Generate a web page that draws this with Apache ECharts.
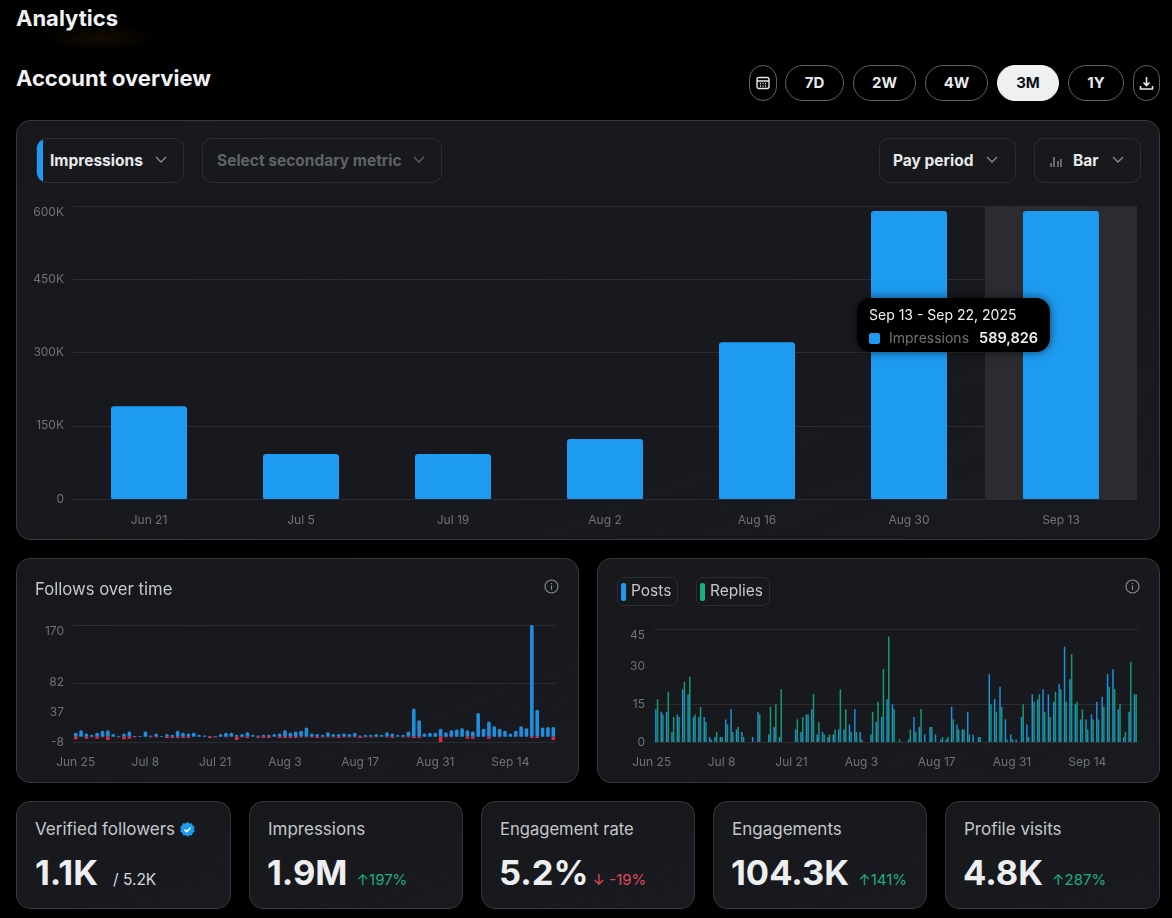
<!DOCTYPE html>
<html>
<head>
<meta charset="utf-8">
<script src="https://cdn.jsdelivr.net/npm/echarts@6/dist/echarts.min.js"></script>
<style>
html,body{margin:0;padding:0;background:#000;width:1172px;height:918px;overflow:hidden;font-family:Inter,"Noto Sans",sans-serif;color:#e7e9ea}
.abs{position:absolute;box-sizing:border-box}
.glow{position:absolute;left:40px;top:25px;width:120px;height:26px;background:radial-gradient(ellipse at center,rgba(70,42,8,.28),rgba(0,0,0,0) 70%)}
.card{position:absolute;box-sizing:border-box;background:linear-gradient(160deg,#17181b,#191a20);border:1px solid #36383b;border-radius:14px}
.title{position:absolute;left:16px;font-size:22px;font-weight:700;color:#f1f2f3;line-height:28px}
.pill{position:absolute;box-sizing:border-box;top:65px;height:36px;border:1px solid #5f6367;border-radius:18px;text-align:center;font-size:15px;font-weight:700;line-height:34px;color:#e7e9ea}
.pill.on{background:#eff1f1;color:#0f1419;border-color:#eff1f1}
.drop{position:absolute;box-sizing:border-box;top:138px;height:45px;border:1px solid #2c2e31;border-radius:10px;font-size:15.5px;font-weight:700;line-height:43px;background:#18191c;color:#e7e9ea}
.drop span{position:absolute;white-space:nowrap}
.drop svg,.pill svg{position:absolute}
.head{position:absolute;left:35px;top:579px;font-size:16.7px;color:#c4c7cb;line-height:20px}
.chip{position:absolute;box-sizing:border-box;top:577px;height:29px;border:1px solid #2c2e31;border-radius:7px;font-size:15.5px;line-height:25px;color:#c4c7cb;padding-left:13px;overflow:hidden}
.chip i{position:absolute;left:3px;top:5px;width:5px;height:18px;border-radius:2px}
.stat-l{position:absolute;top:17px;left:18px;font-size:17px;line-height:20px;color:#c4c7cb;white-space:nowrap}
.stat-v{position:absolute;top:50px;left:17px;font-size:34.5px;font-weight:700;line-height:42px;color:#eceef0;white-space:nowrap}
.stat-d{font-size:15px;font-weight:400;margin-left:9px}
.up{color:#1fae7a}.down{color:#e0485c}
.chart{position:absolute}
</style>
</head>
<body>
<div class="glow"></div>
<div class="title" style="top:4px">Analytics</div>
<div class="title" style="top:64px">Account overview</div>

<div class="pill" style="left:749px;width:28px"><svg style="left:6px;top:10px" width="14" height="14" viewBox="0 0 14 14" fill="none" stroke="#e7e9ea" stroke-width="1.4"><rect x="1" y="1.5" width="12" height="11" rx="2"/><path d="M1 5h12M4 7.5h1M6.5 7.5h1M9 7.5h1M4 10h1M6.5 10h1M9 10h1"/></svg></div>
<div class="pill" style="left:785px;width:59px">7D</div>
<div class="pill" style="left:853px;width:63px">2W</div>
<div class="pill" style="left:925px;width:63px">4W</div>
<div class="pill on" style="left:997px;width:62px">3M</div>
<div class="pill" style="left:1068px;width:56px">1Y</div>
<div class="pill" style="left:1133px;width:27px"><svg style="left:5px;top:10px" width="15" height="15" viewBox="0 0 15 15" fill="none" stroke="#e7e9ea" stroke-width="1.6"><path d="M7.5 1v8M4.5 6.5l3 3 3-3M1.5 10v3h12v-3"/></svg></div>

<div class="card" style="left:16px;top:120px;width:1144px;height:420px"></div>
<div class="card" style="left:16px;top:558px;width:563px;height:225px"></div>
<div class="card" style="left:597px;top:558px;width:563px;height:225px"></div>

<div class="chart" id="mainChart" style="left:16px;top:190px;width:1144px;height:350px"></div>
<div class="chart" id="followsChart" style="left:16px;top:558px;width:563px;height:225px"></div>
<div class="chart" id="postsChart" style="left:597px;top:558px;width:563px;height:225px"></div>

<div class="drop" style="left:36px;width:148px;overflow:hidden"><i class="abs" style="left:-1px;top:-1px;width:7px;height:45px;background:#1d9bf0"></i><span style="left:13px">Impressions</span><svg style="left:118px;top:17px" width="12" height="8" viewBox="0 0 12 8" fill="none" stroke="#8b8f94" stroke-width="1.3"><path d="M1 1l5 5 5-5"/></svg></div>
<div class="drop" style="left:202px;width:240px;color:#5f6368"><span style="left:14px">Select secondary metric</span><svg style="left:210px;top:17px" width="12" height="8" viewBox="0 0 12 8" fill="none" stroke="#5f6368" stroke-width="1.3"><path d="M1 1l5 5 5-5"/></svg></div>
<div class="drop" style="left:879px;width:137px"><span style="left:13px">Pay period</span><svg style="left:106px;top:17px" width="12" height="8" viewBox="0 0 12 8" fill="none" stroke="#8b8f94" stroke-width="1.3"><path d="M1 1l5 5 5-5"/></svg></div>
<div class="drop" style="left:1034px;width:107px"><svg style="left:15px;top:16px" width="12" height="12" viewBox="0 0 12 12" fill="none" stroke="#b4b7ba" stroke-width="1"><path d="M1 12V8M4 12V2M8 12V6M11 12V4"/></svg><span style="left:38px">Bar</span><svg style="left:77px;top:17px" width="12" height="8" viewBox="0 0 12 8" fill="none" stroke="#8b8f94" stroke-width="1.3"><path d="M1 1l5 5 5-5"/></svg></div>

<div class="head">Follows over time</div>
<svg class="abs" style="left:544px;top:579px" width="15" height="15" viewBox="0 0 15 15" fill="none" stroke="#8b8f94" stroke-width="1.1"><circle cx="7.5" cy="7.5" r="6.5"/><path d="M7.5 6.6v4.2M7.5 4v1.2"/></svg>
<svg class="abs" style="left:1125px;top:579px" width="15" height="15" viewBox="0 0 15 15" fill="none" stroke="#8b8f94" stroke-width="1.1"><circle cx="7.5" cy="7.5" r="6.5"/><path d="M7.5 6.6v4.2M7.5 4v1.2"/></svg>
<div class="chip" style="left:617px;width:61px"><i style="background:#1d9bf0"></i>Posts</div>
<div class="chip" style="left:696px;width:74px"><i style="background:#17b07f"></i>Replies</div>

<div class="card" style="left:16px;top:801px;width:215px;height:108px"><div class="stat-l">Verified followers <svg style="vertical-align:-2px" width="15" height="15" viewBox="0 0 15 15"><path fill="#1d9bf0" d="M7.5 0l2 1.4 2.4-.1.8 2.3 2 1.4-.7 2.3.7 2.3-2 1.4-.8 2.3-2.4-.1-2 1.4-2-1.4-2.4.1-.8-2.3-2-1.4.7-2.3L.1 5l2-1.4.8-2.3 2.4.1z"/><path fill="none" stroke="#fff" stroke-width="1.6" d="M4.5 7.6l2.1 2.1 3.9-4"/></svg></div><div class="stat-v" style="left:18px">1.1K<span class="stat-d" style="color:#d5d7da;margin-left:15px;font-size:15.5px">/ 5.2K</span></div></div>
<div class="card" style="left:249px;top:801px;width:214px;height:108px"><div class="stat-l">Impressions</div><div class="stat-v">1.9M<span class="stat-d up">↑197%</span></div></div>
<div class="card" style="left:481px;top:801px;width:214px;height:108px"><div class="stat-l" style="font-size:16.6px">Engagement rate</div><div class="stat-v">5.2%<span class="stat-d down" style="margin-left:4px">↓ -19%</span></div></div>
<div class="card" style="left:713px;top:801px;width:214px;height:108px"><div class="stat-l">Engagements</div><div class="stat-v">104.3K<span class="stat-d up">↑141%</span></div></div>
<div class="card" style="left:945px;top:801px;width:215px;height:108px"><div class="stat-l">Profile visits</div><div class="stat-v">4.8K<span class="stat-d up">↑287%</span></div></div>

<script>
var periods = ["Jun 21", "Jul 5", "Jul 19", "Aug 2", "Aug 16", "Aug 30", "Sep 13"];
var impressions = [190000, 92000, 92000, 123000, 321000, 590000, 589826];

var days = [
  "Jun 25","Jun 26","Jun 27","Jun 28","Jun 29","Jun 30",
  "Jul 1","Jul 2","Jul 3","Jul 4","Jul 5","Jul 6","Jul 7","Jul 8","Jul 9","Jul 10","Jul 11","Jul 12","Jul 13","Jul 14","Jul 15","Jul 16",
  "Jul 17","Jul 18","Jul 19","Jul 20","Jul 21","Jul 22","Jul 23","Jul 24","Jul 25","Jul 26","Jul 27","Jul 28","Jul 29","Jul 30","Jul 31",
  "Aug 1","Aug 2","Aug 3","Aug 4","Aug 5","Aug 6","Aug 7","Aug 8","Aug 9","Aug 10","Aug 11","Aug 12","Aug 13","Aug 14","Aug 15","Aug 16",
  "Aug 17","Aug 18","Aug 19","Aug 20","Aug 21","Aug 22","Aug 23","Aug 24","Aug 25","Aug 26","Aug 27","Aug 28","Aug 29","Aug 30","Aug 31",
  "Sep 1","Sep 2","Sep 3","Sep 4","Sep 5","Sep 6","Sep 7","Sep 8","Sep 9","Sep 10","Sep 11","Sep 12","Sep 13","Sep 14","Sep 15","Sep 16",
  "Sep 17","Sep 18","Sep 19","Sep 20","Sep 21","Sep 22"
];
var dayLabels = ["Jun 25", "Jul 8", "Jul 21", "Aug 3", "Aug 17", "Aug 31", "Sep 14"];

var followsGained = [
  6,10,5,3,6,9,10,4,1,5, 8,1,1,8,2,5,1,4,3,9,
  6,5,6,3,2,1,1,4,6,6, 3,4,7,3,2,3,3,4,5,10,
  6,8,9,14,5,4,3,7,4,4, 5,4,6,2,3,3,4,3,7,5,
  3,3,8,43,25,5,6,6,12,7, 10,11,13,10,8,36,12,23,16,12,
  9,5,9,16,13,170,41,14,15,15
];
var followsLost = [
  -4,0,-3,-1,-3,-1,-5,0,-1,-4, -3,-1,0,0,-1,-1,0,-2,-2,-2,
  -2,-2,0,0,0,-2,-1,0,-1,0, -5,-1,-2,0,-2,-2,-2,0,-2,-2,
  -2,-2,-1,-1,-1,-2,-1,-1,-1,-2, -1,-1,-1,-2,-1,-1,-1,0,-1,-2,
  0,-1,-1,-2,-2,0,0,0,-8,-1, -1,0,0,-3,-3,0,0,-3,0,-1,
  0,0,0,0,0,-2,-2,0,0,-5
];
var followsTicks = [-8, 37, 82, 170];
var followsLines = [-8, 82, 170];

var posts = [
  13,12,12,4,11,21,19,10,10,10, 2,2,2,9,13,5,4,0,2,12,
  0,3,6,2,0,0,5,4,11,13, 3,4,2,3,5,5,7,13,4,0,
  3,8,10,17,15,0,0,1,10,6, 3,6,3,1,1,14,7,5,12,3,
  2,0,27,17,22,9,3,1,10,7, 19,17,21,19,16,23,38,25,15,9,
  9,11,16,18,27,29,13,2,12,19
];
var replies = [
  17,11,20,10,10,24,26,11,14,8, 1,4,2,7,4,6,2,0,0,11,
  0,14,15,21,0,0,9,10,11,19, 8,3,3,5,21,13,4,4,1,0,
  12,16,29,42,13,1,0,5,4,13, 0,6,0,2,2,9,5,5,3,0,
  2,0,15,12,14,1,1,0,15,2, 16,19,12,10,20,21,16,35,16,13,
  5,9,9,14,22,21,15,4,32,19
];
var postsTicks = [0, 15, 30, 45];
var postsLines = [0, 15, 45];

var axisText = "#6f7276";
var lineColor = "#2b2d30";
var fontName = "Inter";

function dayAxis(padRight) {
  return {
    type: "category",
    data: days,
    axisLine: { onZero: false, lineStyle: { color: lineColor } },
    axisTick: { show: false },
    axisLabel: {
      color: axisText,
      fontSize: 12,
      fontFamily: fontName,
      margin: 14,
      padding: [0, padRight, 0, 0],
      hideOverlap: false,
      interval: function (i, name) { return dayLabels.indexOf(name) >= 0; }
    }
  };
}

function customY(min, max, ticks, lines) {
  return {
    type: "value",
    min: min,
    max: max,
    axisLine: { show: false },
    axisTick: { show: false, customValues: lines },
    splitLine: { lineStyle: { color: lineColor } },
    axisLabel: {
      customValues: ticks,
      color: axisText,
      fontSize: 12,
      fontFamily: fontName,
      margin: 9,
      verticalAlignMaxLabel: "top"
    }
  };
}

var mainChart = echarts.init(document.getElementById("mainChart"));
mainChart.setOption({
  animation: false,
  grid: { left: 57, right: 23, top: 16, height: 293, containLabel: false },
  tooltip: {
    trigger: "axis",
    alwaysShowContent: true,
    transitionDuration: 0,
    position: [841, 108],
    padding: [7, 12, 4, 12],
    backgroundColor: "#000",
    borderWidth: 0,
    extraCssText: "border-radius:14px;box-shadow:0 0 10px rgba(0,0,0,.6);",
    axisPointer: { type: "shadow", z: 0, shadowStyle: { color: "#2b2c2f", opacity: 1 } },
    formatter: function () {
      return '<div style="font:14px/20px Inter;color:#eff1f2">Sep 13 - Sep 22, 2025</div>' +
        '<div style="font:14px/20px Inter;color:#6f7276;margin-top:3px;white-space:nowrap">' +
        '<i style="display:inline-block;width:11px;height:11px;border-radius:2px;background:#1d9bf0;margin-right:9px;vertical-align:-1px"></i>Impressions' +
        '<b style="color:#eff1f2;font-weight:600;font-size:14.5px;margin-left:10px">589,826</b></div>';
    }
  },
  xAxis: {
    type: "category",
    data: periods,
    axisLine: { lineStyle: { color: lineColor } },
    axisTick: { show: false },
    axisLabel: { color: axisText, fontSize: 12, fontFamily: fontName, margin: 15 }
  },
  yAxis: {
    type: "value",
    min: 0,
    max: 600000,
    interval: 150000,
    axisLabel: {
      color: axisText,
      fontSize: 12,
      fontFamily: fontName,
      margin: 9,
      verticalAlignMaxLabel: "top",
      formatter: function (v) { return v ? v / 1000 + "K" : "0"; }
    },
    splitLine: { lineStyle: { color: lineColor } }
  },
  series: [
    {
      name: "Impressions",
      type: "bar",
      data: impressions,
      barWidth: 76,
      emphasis: { disabled: true },
      itemStyle: { color: "#1d9bf0", borderRadius: [3, 3, 1, 1] }
    }
  ]
});
mainChart.dispatchAction({ type: "showTip", seriesIndex: 0, dataIndex: 6 });

var followsChart = echarts.init(document.getElementById("followsChart"));
followsChart.setOption({
  animation: false,
  grid: { left: 57, width: 483, top: 67, height: 117 },
  xAxis: dayAxis(0),
  yAxis: customY(-8, 170, followsTicks, followsLines),
  series: [
    { name: "Follows", type: "bar", stack: "f", data: followsGained, barWidth: 3.6, itemStyle: { color: "#1d8fdc", borderRadius: [1.5, 1.5, 0, 0] } },
    { name: "Unfollows", type: "bar", stack: "f", data: followsLost, barWidth: 3.6, itemStyle: { color: "#e5283f" } }
  ]
});

var postsChart = echarts.init(document.getElementById("postsChart"));
postsChart.setOption({
  animation: false,
  grid: { left: 57, width: 484, top: 71, height: 113 },
  xAxis: dayAxis(10),
  yAxis: customY(0, 45, postsTicks, postsLines),
  series: [
    { name: "Posts", type: "bar", data: posts, barWidth: 1.5, barGap: "13%", itemStyle: { color: "#1d8fdc" } },
    { name: "Replies", type: "bar", data: replies, barWidth: 1.5, barGap: "13%", itemStyle: { color: "#17b07f", opacity: 0.85 } }
  ]
});
</script>
</body>
</html>
